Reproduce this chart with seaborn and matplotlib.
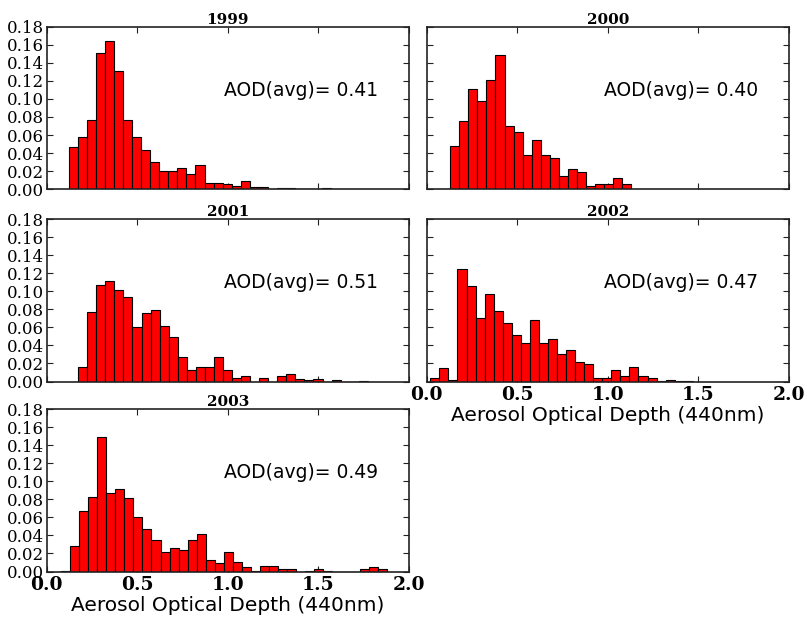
import numpy as np
import pandas as pd
import matplotlib
matplotlib.use("Agg")
import matplotlib.pyplot as plt
import seaborn as sns

# ---- data ----
years = ["1999", "2000", "2001", "2002", "2003"]
aod_avg = [0.41, 0.40, 0.51, 0.47, 0.49]
bin_width = 0.05
bin_start = [0.122, 0.13, 0.174, 0.02, 0.079]

freq_1999 = [0.047, 0.058, 0.077, 0.151, 0.164, 0.131, 0.077, 0.058, 0.043, 0.030,
             0.020, 0.020, 0.023, 0.017, 0.027, 0.007, 0.007, 0.006, 0.004, 0.009,
             0.0025, 0.0025, 0.0, 0.0015, 0.0015, 0.0, 0.0, 0.0, 0.0015]
freq_2000 = [0.048, 0.076, 0.111, 0.098, 0.121, 0.149, 0.070, 0.063, 0.038, 0.054,
             0.038, 0.035, 0.015, 0.022, 0.019, 0.003, 0.006, 0.006, 0.0125, 0.006]
freq_2001 = [0.016, 0.077, 0.107, 0.111, 0.101, 0.094, 0.060, 0.076, 0.079, 0.062,
             0.049, 0.027, 0.013, 0.016, 0.016, 0.027, 0.013, 0.004, 0.006, 0.0,
             0.004, 0.0, 0.006, 0.008, 0.003, 0.002, 0.003, 0.0, 0.002, 0.0,
             0.0, 0.001]
freq_2002 = [0.004, 0.015, 0.0015, 0.125, 0.106, 0.070, 0.097, 0.078, 0.065, 0.051,
             0.043, 0.068, 0.043, 0.047, 0.030, 0.035, 0.022, 0.019, 0.004, 0.004,
             0.013, 0.006, 0.016, 0.006, 0.004, 0.001, 0.002, 0.001, 0.001]
freq_2003 = [0.001, 0.028, 0.067, 0.083, 0.149, 0.087, 0.091, 0.081, 0.060, 0.047,
             0.035, 0.022, 0.026, 0.024, 0.035, 0.041, 0.013, 0.009, 0.022, 0.010,
             0.0045, 0.0008, 0.0065, 0.0065, 0.003, 0.003, 0.0, 0.001, 0.003, 0.001,
             0.0, 0.0, 0.0, 0.003, 0.0045, 0.003]
freqs = [freq_1999, freq_2000, freq_2001, freq_2002, freq_2003]

x_ticks = [0.0, 0.5, 1.0, 1.5, 2.0]
x_ticklabels = ["0.0", "0.5", "1.0", "1.5", "2.0"]
y_ticks = [0.00, 0.02, 0.04, 0.06, 0.08, 0.10, 0.12, 0.14, 0.16, 0.18]
y_ticklabels = ["%.2f" % v for v in y_ticks]
xlabel = "Aerosol Optical Depth (440nm)"

# ---- style ----
sns.set_style("ticks")
plt.rcParams["font.family"] = ["DejaVu Sans"]
plt.rcParams["text.color"] = "black"
plt.rcParams["axes.labelcolor"] = "black"
plt.rcParams["xtick.color"] = "black"
plt.rcParams["ytick.color"] = "black"

fig = plt.figure(figsize=(8.07, 6.18), dpi=100)

W = 807.0
H = 618.0
col_left = [46.7, 426.7]
ax_w = 362.0
row_top = [26.7, 219.0, 409.0]
ax_h = 162.5

# (row, col, show x labels, show y labels)
layout = [(0, 0, False, True), (0, 1, False, False), (1, 0, False, True),
          (1, 1, True, False), (2, 0, True, True)]

for i, (yr, avg, start, fr) in enumerate(zip(years, aod_avg, bin_start, freqs)):
    r, c, showx, showy = layout[i]
    ax = fig.add_axes([col_left[c] / W, 1 - (row_top[r] + ax_h) / H, ax_w / W, ax_h / H])
    n = len(fr)
    centers = start + bin_width * (np.arange(n) + 0.5)
    df = pd.DataFrame({"aod": centers, "freq": fr})
    sns.histplot(data=df, x="aod", weights="freq", bins=n,
                 binrange=(start, start + bin_width * n), stat="count",
                 color="#ff0000", edgecolor="black", linewidth=0.8, alpha=1.0, ax=ax)
    ax.set_xlim(0, 2.0)
    ax.set_ylim(0, 0.18)
    ax.set_xticks(x_ticks)
    ax.set_yticks(y_ticks)
    ax.set_ylabel("")
    ax.tick_params(direction="in", top=True, right=True, length=4, width=0.8,
                   color="#222222", labelcolor="black")
    ax.tick_params(axis="y", pad=2)
    if showy:
        ax.set_yticklabels(y_ticklabels, family="DejaVu Serif", fontsize=12)
    else:
        ax.set_yticklabels([])
    if showx:
        ax.set_xticklabels(x_ticklabels, family="DejaVu Serif", fontweight="bold",
                           fontsize=13.5)
        ax.set_xlabel(xlabel, fontsize=14.5, labelpad=1)
    else:
        ax.set_xticklabels([])
        ax.set_xlabel("")
    for sp in ax.spines.values():
        sp.set_linewidth(1.2)
        sp.set_color("#222222")
    ax.set_title(yr, family="DejaVu Serif", fontweight="bold", fontsize=11, pad=2)
    ax.text(0.49, 0.61, "AOD(avg)= %.2f" % avg, transform=ax.transAxes,
            ha="left", va="center", fontsize=13.5)

fig.savefig("out.png", dpi=100)
